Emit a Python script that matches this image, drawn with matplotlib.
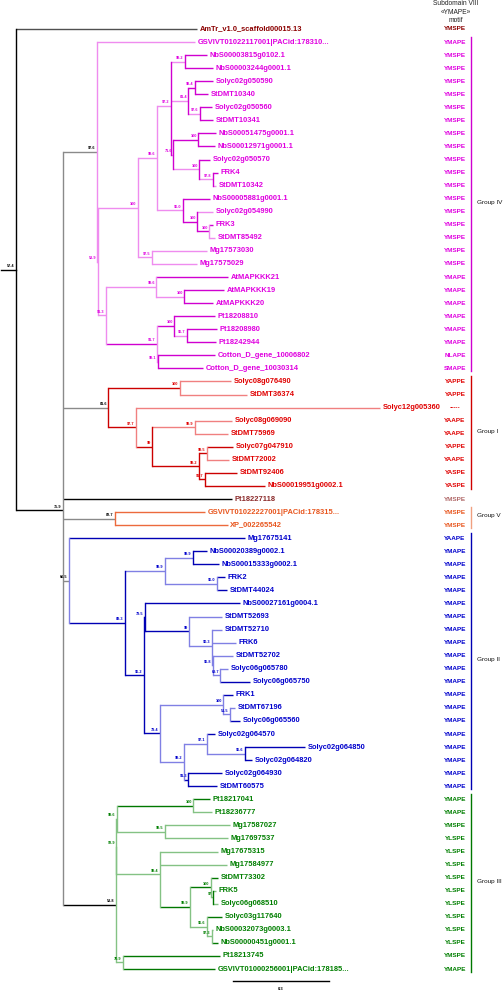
import matplotlib
matplotlib.use('Agg')
import matplotlib.pyplot as plt

plt.rcParams['font.family'] = ['Liberation Sans', 'DejaVu Sans']

# leaves, top to bottom
leaf_names = [
    "AmTr_v1.0_scaffold00015.13", "GSVIVT01022117001|PACid:178310...",
    "NbS00003815g0102.1", "NbS00003244g0001.1", "Solyc02g050590", "StDMT10340",
    "Solyc02g050560", "StDMT10341", "NbS00051475g0001.1", "NbS00012971g0001.1",
    "Solyc02g050570", "FRK4", "StDMT10342", "NbS00005881g0001.1", "Solyc02g054990",
    "FRK3", "StDMT85492", "Mg17573030", "Mg17575029", "AtMAPKKK21", "AtMAPKKK19",
    "AtMAPKKK20", "Pt18208810", "Pt18208980", "Pt18242944", "Cotton_D_gene_10006802",
    "Cotton_D_gene_10030314",
    "Solyc08g076490", "StDMT36374", "Solyc12g005360", "Solyc08g069090", "StDMT75969",
    "Solyc07g047910", "StDMT72002", "StDMT92406", "NbS00019951g0002.1",
    "Pt18227118",
    "GSVIVT01022227001|PACid:178315...", "XP_002265542",
    "Mg17675141", "NbS00020389g0002.1", "NbS00015333g0002.1", "FRK2", "StDMT44024",
    "NbS00027161g0004.1", "StDMT52693", "StDMT52710", "FRK6", "StDMT52702",
    "Solyc06g065780", "Solyc06g065750", "FRK1", "StDMT67196", "Solyc06g065560",
    "Solyc02g064570", "Solyc02g064850", "Solyc02g064820", "Solyc02g064930", "StDMT60575",
    "Pt18217041", "Pt18236777", "Mg17587027", "Mg17697537", "Mg17675315", "Mg17584977",
    "StDMT73302", "FRK5", "Solyc06g068510", "Solyc03g117640", "NbS00032073g0003.1",
    "NbS00000451g0001.1", "Pt18213745", "GSVIVT01000256001|PACid:178185...",
]
motifs = (["YMSPE", "YMAPE"] + ["YMSPE"] * 17 + ["YMAPE"] * 6 + ["NLAPE", "SMAPE"]
          + ["YAPPE", "YAPPE", "-----", "YAAPE", "YAAPE", "YAPPE", "YAAPE", "YASPE", "YASPE"]
          + ["YMSPE"] + ["YMSPE", "YMSPE"] + ["YAAPE"] + ["YMAPE"] * 19
          + ["YMAPE", "YMAPE", "YMSPE"] + ["YLSPE"] * 9 + ["YMSPE", "YMAPE"])
leaf_group = "A" + "4" * 26 + "1" * 9 + "T" + "5" * 2 + "2" * 20 + "3" * 14
# distance from root to each tip (substitutions/site)
leaf_tip = [0.566, 0.559, 0.597, 0.616, 0.616, 0.600, 0.612, 0.616, 0.625, 0.622,
            0.606, 0.631, 0.625, 0.606, 0.616, 0.616, 0.622, 0.597, 0.566, 0.662,
            0.650, 0.616, 0.622, 0.628, 0.625, 0.622, 0.584,
            0.672, 0.722, 1.138, 0.675, 0.662, 0.678, 0.666, 0.691, 0.778,
            0.675, 0.591, 0.662,
            0.716, 0.597, 0.634, 0.653, 0.659, 0.700, 0.644, 0.644, 0.688, 0.678,
            0.662, 0.731, 0.678, 0.684, 0.700, 0.622, 0.903, 0.738, 0.644, 0.628,
            0.606, 0.612, 0.669, 0.662, 0.631, 0.659, 0.631, 0.625, 0.631, 0.644,
            0.616, 0.631, 0.638, 0.622]
leaf_col = ("s" + "p" + "P" * 10 + "p" + "P" + "p" + "P" + "ppp" + "P" * 8
            + "rrrrr" + "R" + "r" + "RR" + "k" + "OO"
            + "B" * 6 + "bbbbb" + "BB" + "b" + "B" * 6
            + "G" + "qqqqq" + "G" + "qq" + "G" + "q" + "GGG")

# internal nodes
node_ids = ["root", "n759", "n976", "n589", "n100a", "n996", "n972", "n992", "n814",
            "n984", "n976b", "n716", "n100b", "n100c", "n978", "n960", "n100d", "n100e",
            "n975", "n913", "n996b", "n100f", "n917", "n100g", "n967", "n991",
            "n816", "n100h", "n977", "n99", "n999", "n992b", "n995", "n917b",
            "n827",
            "n66", "n893", "n999b", "n999c", "n960b", "n962", "n795", "n99c", "n903",
            "n968", "n697", "n794", "n100i", "n515", "n992c", "n971", "n966", "n913b",
            "n538", "n929", "n996c", "n100j", "n995b", "n994", "n999d", "n100k", "n97",
            "n966b", "n973", "n709"]
node_x = [0.0, 0.147, 0.253, 0.256, 0.381, 0.441, 0.484, 0.528, 0.538,
          0.559, 0.575, 0.491, 0.569, 0.572, 0.616, 0.522, 0.566, 0.603,
          0.425, 0.281, 0.438, 0.525, 0.441, 0.494, 0.534, 0.444,
          0.288, 0.512, 0.375, 0.425, 0.559, 0.572, 0.597, 0.591,
          0.309,
          0.166, 0.341, 0.466, 0.553, 0.628, 0.400, 0.403, 0.541, 0.612,
          0.616, 0.638, 0.450, 0.647, 0.669, 0.525, 0.597, 0.716, 0.538,
          0.312, 0.314, 0.316, 0.553, 0.466, 0.450, 0.544, 0.609, 0.616,
          0.597, 0.612, 0.334]
node_support = ["57.4", "75.9", "97.6", "58.9", "100", "99.6", "97.2", "99.2", "81.4",
                "98.4", "97.6", "71.6", "100", "100", "97.8", "96.0", "100", "100",
                "97.5", "91.3", "99.6", "100", "91.7", "100", "96.7", "99.1",
                "81.6", "100", "97.7", "99", "99.9", "99.2", "99.5", "91.7",
                "82.7",
                "66.5", "89.3", "99.9", "99.9", "96.0", "96.2", "79.5", "99", "90.3",
                "96.8", "69.7", "79.4", "100", "51.5", "99.2", "97.1", "96.6", "91.3",
                "53.8", "92.9", "99.6", "100", "99.5", "99.4", "99.9", "100", "97",
                "96.6", "97.3", "70.9"]
node_kids = [[0, "n759"], ["n976", "n816", 36, "n827", "n66", "n538"], [1, "n589"],
             ["n100a", "n913"], ["n996", "n975"], ["n972", "n960"],
             ["n992", "n814", "n716"], [2, 3], ["n984", "n976b"], [4, 5], [6, 7],
             ["n100b", "n100c"], [8, 9], [10, "n978"], [11, 12], [13, "n100d"],
             [14, "n100e"], [15, 16], [17, 18], ["n996b", "n917"], [19, "n100f"],
             [20, 21], ["n100g", "n991"], [22, "n967"], [23, 24], [25, 26],
             ["n100h", "n977"], [27, 28], [29, "n99"], ["n999", "n992b"], [30, 31],
             ["n995", "n917b"], [32, 33], [34, 35],
             [37, 38],
             [39, "n893"], ["n999b", "n962"], ["n999c", "n960b"], [40, 41], [42, 43],
             ["n795", "n794"], [44, "n99c"], [45, "n903"], [46, 47, "n968"],
             [48, "n697"], [49, 50], ["n100i", "n992c"], [51, "n515"], [52, 53],
             ["n971", "n913b"], [54, "n966"], [55, 56], [57, 58],
             ["n929", "n709"], ["n996c", "n994"], ["n100j", "n995b"], [59, 60],
             [61, 62], [63, 64, "n999d"], ["n100k", "n966b"], [65, "n97"], [66, 67],
             [68, "n973"], [69, 70], [71, 72]]
node_vcol = ("kappppPPPPPPPPPPPppppPpPPP" + "RrrRrRrR" + "O"
             + "bBbBbBBbbbbbbbbbBB" + "qqqqqqqqGqqqG")
node_hcol = ("kkappppppPppPpppPPppppPPpp" + "aRRRrRRR" + "a"
             + "aBbbbBBBbbbBbbbbbB" + "kqqGqqGGqqqq")

groups = ["Group IV", "Group I", "Group V", "Group II", "Group III"]
group_rows = [(1, 26), (27, 35), (37, 38), (39, 58), (59, 72)]
group_key = ["4", "1", "5", "2", "3"]

pal = {'k': '#000000', 'a': '#8a8a8a', 's': '#505050',
       'P': '#d000d0', 'p': '#ef8cef', 'R': '#cc0000', 'r': '#f08080',
       'O': '#ec6a3c', 'o': '#f4a080', 'B': '#0000b4', 'b': '#8080e4',
       'G': '#007800', 'q': '#84c284'}
txt = {'A': '#8b0000', '4': '#e000e0', '1': '#e00000', 'T': '#8b2a2a',
       '5': '#e8561e', '2': '#0000cc', '3': '#007f00'}
hue_of = {'P': '4', 'p': '4', 'R': '1', 'r': '1', 'O': '5', 'o': '5',
          'B': '2', 'b': '2', 'G': '3', 'q': '3'}
bar_col = {'4': '#d000d0', '1': '#d00000', '5': '#f0a080', '2': '#0000b4', '3': '#007800'}

fig = plt.figure(figsize=(5.04, 9.92), dpi=100)
ax = fig.add_axes([0, 0, 1, 1])
ax.set_xlim(-0.05, 1.525)
ax.set_ylim(73.76, -2.22)
ax.axis('off')

pos = {n: i for i, n in enumerate(node_ids)}
ycache = {}


def get_y(ref):
    if isinstance(ref, int):
        return ref
    if ref not in ycache:
        kids = node_kids[pos[ref]]
        ycache[ref] = sum(get_y(c) for c in kids) / len(kids)
    return ycache[ref]


def get_x(ref):
    return leaf_tip[ref] if isinstance(ref, int) else node_x[pos[ref]]


def get_c(ref):
    return leaf_col[ref] if isinstance(ref, int) else node_hcol[pos[ref]]


lw = 1.0
for i, nid in enumerate(node_ids):
    x = node_x[i]
    y = get_y(nid)
    ys = [get_y(c) for c in node_kids[i]]
    for c in node_kids[i]:
        ax.plot([x, get_x(c)], [get_y(c), get_y(c)], color=pal[get_c(c)], lw=lw,
                solid_capstyle='butt')
    ax.plot([x, x], [min(ys), max(ys)], color=pal[node_vcol[i]], lw=lw,
            solid_capstyle='projecting')
    hc = node_hcol[i]
    sc = txt[hue_of[hc]] if hc in hue_of else '#000000'
    ax.text(x - 0.004, y - 0.12, node_support[i], fontsize=2.8, fontweight='bold',
            color=sc, ha='right', va='bottom')

# root stub
ry = get_y("root")
ax.plot([-0.047, 0], [ry, ry], color='k', lw=lw)

# tip labels and motifs
ytr = ax.get_yaxis_transform()
for i, name in enumerate(leaf_names):
    g = leaf_group[i]
    ax.text(leaf_tip[i] + 0.008, i, name, fontsize=5.4, fontweight='bold',
            color=txt[g], ha='left', va='center')
    mc = '#b06868' if g == 'T' else txt[g]
    ax.text(0.903, i, motifs[i], fontsize=4.6, fontweight='bold', color=mc,
            ha='center', va='center', transform=ytr)

# group bars
for name, (a, b), g in zip(groups, group_rows, group_key):
    ax.plot([0.9345, 0.9345], [a - 0.4, b + 0.2], color=bar_col[g], lw=1.0,
            transform=ytr)
    ax.text(0.947, (a + b) / 2 - 0.2, name, fontsize=4.6, color='#111111',
            ha='left', va='center', transform=ytr)

# header
for t, yy in zip(["Subdomain VIII", "\u00abYMAPE\u00bb", "motif"], [0.996, 0.987, 0.979]):
    ax.text(0.905, yy, t, fontsize=4.8, color='#222222', ha='center', va='center',
            transform=ax.transAxes)

# scale bar
ax.plot([0.678, 0.978], [72.92, 72.92], color='k', lw=1.0)
ax.text(0.828, 73.5, "0.3", fontsize=3.0, fontweight='bold', ha='center', va='center')

fig.savefig("out.png", dpi=100)
